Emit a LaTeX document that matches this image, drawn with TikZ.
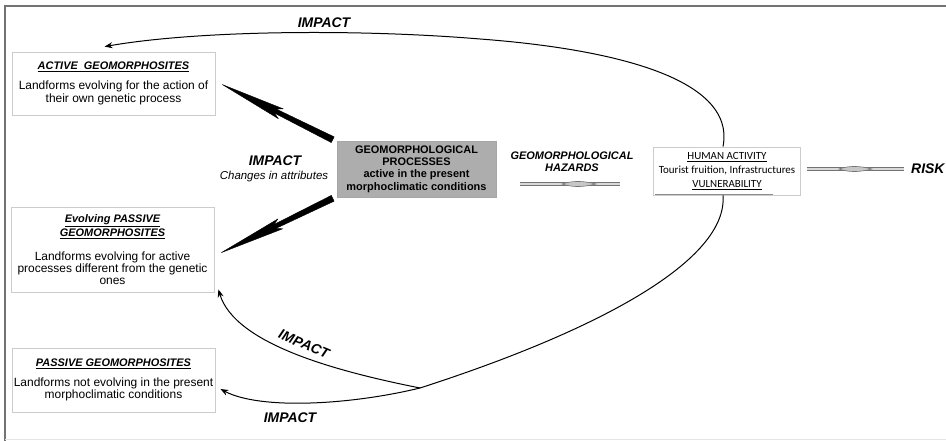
\documentclass[tikz,border=0pt]{standalone}
\usepackage{fontspec}
\setmainfont{Liberation Sans}
\newfontfamily\carlitofont{Carlito}
\newfontfamily\nokernfont[Kerning=Off]{Liberation Sans}
\usetikzlibrary{arrows.meta,calc}
\newcommand{\sitetitle}[1]{{\fontsize{11}{12}\selectfont\bfseries\itshape\underline{#1}}}
\begin{document}
\begin{tikzpicture}[x=1bp,y=-1bp,
  sitebox/.style={draw=black!20, line width=0.8bp, minimum width=203bp, align=center, inner sep=0pt},
  bodyfont/.style={font=\fontsize{12}{12.5}\selectfont},
  procbox/.style={draw=black!35, fill=black!32, line width=0.6bp, minimum width=159bp, minimum height=56bp, align=center, inner sep=0pt, font=\fontsize{11}{12.3}\selectfont\bfseries},
  humanbox/.style={draw=black!20, line width=0.8bp, minimum width=147bp, minimum height=48bp, align=center, inner sep=0pt, font=\fontsize{11}{14}\selectfont\carlitofont},
  biglabel/.style={font=\fontsize{14}{15}\selectfont\bfseries\itshape, inner sep=0pt},
  midlabel/.style={font=\fontsize{11}{12}\selectfont\bfseries\itshape, align=center, inner sep=0pt},
  impactline/.style={line width=1bp, -{Stealth[length=8bp,width=6bp]}},
  fatfill/.style={fill=black, draw=black, line width=0.4bp, line join=round},
  greyline/.style={draw=black!55, line width=3.2bp},
  greyinner/.style={draw=black!15, line width=1.6bp},
  lens/.style={fill=black!22, draw=black!55, line width=0.6bp}
]
\useasboundingbox (0,0) rectangle (946,441);
% frame
\draw[black!55, line width=2bp] (5,441) -- (5,6) -- (946,6);
\draw[black!10, line width=0.8bp] (5,439) -- (946,439);

% boxes
\node[sitebox, minimum height=63bp, bodyfont] (active) at (113.5,83.5)
  {\sitetitle{ACTIVE\ \ GEOMORPHOSITES}\\[7bp]
   Landforms evolving for the action of\\[0.5bp] their own genetic process};
\node[sitebox, minimum height=85bp, bodyfont] (evolving) at (112.5,249.5)
  {\sitetitle{Evolving PASSIVE}\\[2bp] \sitetitle{GEOMORPHOSITES}\\[11bp]
   Landforms evolving for active\\[-0.5bp] processes different from the genetic\\[-0.5bp] ones};
\node[sitebox, minimum height=64bp, bodyfont] (passive) at (113.5,380)
  {\sitetitle{PASSIVE GEOMORPHOSITES}\\[7.5bp]
   Landforms not evolving in the present\\[-0.5bp] morphoclimatic conditions};

\node[procbox] (proc) at (416.5,169)
  {GEOMORPHOLOGICAL\\ PROCESSES\\ active in the present\\ morphoclimatic conditions};

\node[humanbox] (human) at (727,171)
  {\underline{HUMAN ACTIVITY}\\ Tourist fruition, Infrastructures\\ \underline{VULNERABILITY}};
\draw[black!45, line width=0.7bp] ($(human.south west)+(2,-1.5)$) -- ($(human.south west)+(120,-1.5)$);

% labels
\node[biglabel] (imptop) at (324,23) {IMPACT};
\node[biglabel] (impmid) at (275,161) {IMPACT};
\node[font=\fontsize{11.5}{12}\selectfont\itshape, inner sep=0pt] (changes) at (274,177) {Changes in attributes};
\node[font=\fontsize{14}{15}\selectfont\nokernfont\bfseries\itshape, inner sep=0pt, rotate=-23] (improt) at (304,344) {IMPACT};
\node[biglabel] (impbot) at (290,418) {IMPACT};
\node[midlabel] (haz) at (572,162) {GEOMORPHOLOGICAL\\ HAZARDS};
\node[biglabel, anchor=west] (risk) at (911,169) {RISK};

% fat tapered arrows
\coordinate (t1) at ($(proc.north west)+(-4,-1)$);
\coordinate (p1) at ($(active.north east)+(7,33)$);
\coordinate (t2) at ($(proc.south west)+(-4,1)$);
\coordinate (p2) at ($(evolving.north east)+(7,46)$);
\foreach \t/\p in {t1/p1, t2/p2}{
  \filldraw[fatfill]
    ($(\t)!3.2bp!90:(\p)$) --
    ($($(\t)!0.52!(\p)$)!2.2bp!90:(\p)$) --
    ($($(\t)!0.47!(\p)$)!5.5bp!90:(\p)$) --
    (\p) --
    ($($(\t)!0.47!(\p)$)!5.5bp!-90:(\p)$) --
    ($($(\t)!0.52!(\p)$)!2.2bp!-90:(\p)$) --
    ($(\t)!3.2bp!-90:(\p)$) -- cycle;
}

% grey hazard / risk arrows
\coordinate (ha) at (520,184);
\coordinate (hb) at (620,184);
\draw[greyline] (ha) -- (hb);
\draw[greyinner] (ha) -- (hb);
\filldraw[lens] ($(ha)!0.42!(hb)$) .. controls ($(ha)!0.53!(hb)+(0,-3.4)$) and ($(ha)!0.62!(hb)+(0,-3.4)$) .. ($(ha)!0.76!(hb)$) .. controls ($(ha)!0.62!(hb)+(0,3.4)$) and ($(ha)!0.53!(hb)+(0,3.4)$) .. cycle;
\coordinate (ra) at ($(human.east)+(6,-2)$);
\coordinate (rb) at ($(risk.west)+(-7,0)$);
\draw[greyline] (ra) -- (rb);
\draw[greyinner] (ra) -- (rb);
\filldraw[lens] ($(ra)!0.33!(rb)$) .. controls ($(ra)!0.44!(rb)+(0,-3.4)$) and ($(ra)!0.53!(rb)+(0,-3.4)$) .. ($(ra)!0.67!(rb)$) .. controls ($(ra)!0.53!(rb)+(0,3.4)$) and ($(ra)!0.44!(rb)+(0,3.4)$) .. cycle;

% impact curves
\coordinate (top) at (480,39);
\coordinate (J) at (420,388);
\draw[impactline] ($(human.north)+(-4,0)$) .. controls (737,75) and (600,48) .. (top)
  .. controls (360,29) and (200,30) .. ($(active.north)+(-9,-5)$);
\draw[impactline] ($(human.south)+(-4,0)$) .. controls (728,260) and (600,330) .. (J)
  .. controls (350,405) and (260,410) .. ($(passive.east)+(5,9)$);
\draw[impactline] (J) .. controls (340,372) and (235,345) .. ($(evolving.south east)+(4,-3)$);
\end{tikzpicture}
\end{document}
